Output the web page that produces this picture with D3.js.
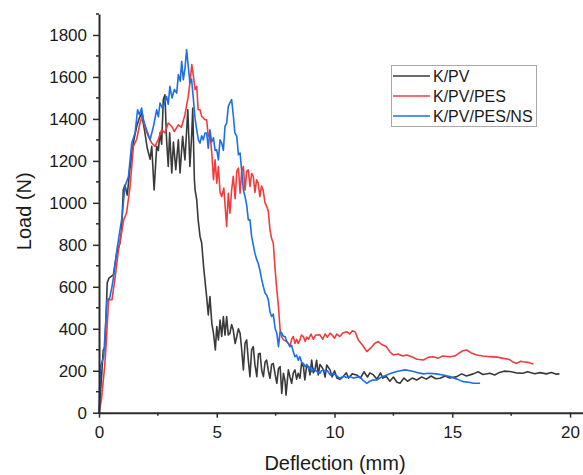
<!DOCTYPE html>
<html>
<head>
<meta charset="utf-8">
<script src="https://cdn.jsdelivr.net/npm/d3@7"></script>
<style>
html,body{margin:0;padding:0;background:#fff;}
svg{display:block;font-family:Arial,"Liberation Sans",sans-serif;}
</style>
</head>
<body>
<svg id="chart" width="583" height="475"></svg>
<script>
const seriesNames = ["K/PV", "K/PV/PES", "K/PV/PES/NS"];
const seriesColors = ["#3a3a3a", "#f23c3c", "#1c6fe6"];
const xMajorTicks = [0, 5, 10, 15, 20];
const yMajorTicks = [0, 200, 400, 600, 800, 1000, 1200, 1400, 1600, 1800];
const xLabel = "Deflection (mm)";
const yLabel = "Load (N)";

const kpv = [[0,0],[0.11,172],[0.18,299],[0.25,310],[0.35,620],[0.42,641],[0.61,657],[0.75,761],[0.89,809],[0.96,871],[1.03,1061],[1.1,1085],[1.2,1037],[1.3,1150],[1.46,1287],[1.6,1364],[1.7,1400],[1.81,1428],[1.95,1334],[2.05,1260],[2.1,1239],[2.17,1208],[2.24,1270],[2.34,1061],[2.45,1269],[2.52,1250],[2.59,1334],[2.66,1280],[2.73,1492],[2.8,1515],[2.87,1300],[2.94,1173],[3.0,1334],[3.09,1142],[3.16,1290],[3.26,1158],[3.37,1300],[3.44,1142],[3.55,1317],[3.65,1205],[3.77,1444],[3.86,1173],[3.94,1333],[3.98,1452],[4.05,1110],[4.08,1061],[4.15,1014],[4.21,919],[4.29,840],[4.36,809],[4.44,696],[4.57,553],[4.64,466],[4.71,553],[4.79,426],[4.86,380],[4.94,299],[5.0,410],[5.07,347],[5.14,442],[5.21,363],[5.28,458],[5.35,370],[5.42,458],[5.49,370],[5.56,379],[5.63,420],[5.7,394],[5.78,330],[5.85,363],[5.92,400],[5.99,379],[6.06,300],[6.13,204],[6.2,330],[6.27,347],[6.34,250],[6.41,172],[6.48,300],[6.55,315],[6.62,230],[6.7,172],[6.77,280],[6.84,283],[6.91,200],[6.98,172],[7.05,240],[7.12,251],[7.19,200],[7.26,164],[7.33,230],[7.4,235],[7.48,180],[7.55,140],[7.62,210],[7.69,220],[7.76,92],[7.83,188],[7.9,150],[7.94,84],[8.04,204],[8.11,170],[8.18,140],[8.25,190],[8.32,204],[8.39,160],[8.46,188],[8.53,164],[8.6,235],[8.68,220],[8.74,156],[8.82,227],[8.89,220],[8.96,180],[9.03,251],[9.1,190],[9.17,204],[9.24,250],[9.31,180],[9.38,230],[9.45,220],[9.53,204],[9.6,170],[9.67,227],[9.81,204],[9.9,170],[10.0,200],[10.1,165],[10.23,159],[10.37,172],[10.5,190],[10.6,165],[10.75,185],[10.94,180],[11.1,165],[11.25,195],[11.4,170],[11.5,190],[11.65,180],[11.8,160],[11.95,190],[12.05,165],[12.2,172],[12.35,150],[12.5,170],[12.65,145],[12.78,140],[12.95,165],[13.1,150],[13.3,165],[13.49,156],[13.7,170],[13.9,160],[14.1,175],[14.3,162],[14.48,164],[14.7,175],[14.9,165],[15.19,172],[15.4,185],[15.6,175],[15.89,185],[16.1,195],[16.3,182],[16.6,188],[16.8,180],[17.0,192],[17.2,198],[17.45,196],[17.7,190],[18.0,188],[18.2,195],[18.5,186],[18.73,191],[19.0,185],[19.2,192],[19.4,184],[19.55,185]];

const kpvPes = [[0,0],[0.1,60],[0.24,219],[0.3,320],[0.41,538],[0.55,538],[0.69,649],[0.83,776],[1.05,919],[1.17,952],[1.32,1078],[1.46,1269],[1.6,1303],[1.74,1380],[1.85,1420],[1.95,1358],[2.1,1317],[2.24,1285],[2.38,1269],[2.52,1303],[2.66,1348],[2.8,1333],[2.94,1380],[3.09,1364],[3.2,1340],[3.37,1372],[3.5,1360],[3.65,1420],[3.79,1507],[3.86,1571],[3.94,1659],[4.01,1603],[4.08,1540],[4.15,1555],[4.21,1444],[4.29,1444],[4.36,1412],[4.5,1396],[4.57,1396],[4.64,1317],[4.71,1333],[4.79,1237],[4.86,1110],[4.93,1205],[5.0,1094],[5.07,1173],[5.14,1050],[5.21,1030],[5.3,1070],[5.42,887],[5.49,1046],[5.56,951],[5.63,1060],[5.70,1126],[5.78,1020],[5.85,1150],[5.92,1166],[5.99,1046],[6.06,1150],[6.13,1173],[6.2,1060],[6.27,1150],[6.34,1157],[6.41,1078],[6.48,1140],[6.55,1126],[6.62,1050],[6.69,1110],[6.76,1094],[6.83,1030],[6.9,1080],[6.97,1060],[7.05,1000],[7.12,983],[7.19,960],[7.26,871],[7.33,830],[7.4,808],[7.47,696],[7.55,585],[7.62,506],[7.69,394],[7.76,360],[7.83,347],[7.97,339],[8.04,330],[8.11,315],[8.18,350],[8.25,363],[8.32,330],[8.39,350],[8.46,330],[8.53,347],[8.6,370],[8.68,363],[8.75,340],[8.82,360],[8.9,350],[9.0,375],[9.1,350],[9.2,370],[9.38,371],[9.5,350],[9.6,375],[9.7,360],[9.81,379],[9.9,370],[10.0,355],[10.1,375],[10.23,363],[10.35,380],[10.52,386],[10.65,375],[10.75,390],[10.87,386],[10.95,365],[11.01,347],[11.2,320],[11.37,291],[11.55,310],[11.7,330],[11.86,339],[12.0,325],[12.2,315],[12.35,290],[12.5,275],[12.7,280],[12.9,270],[13.07,275],[13.3,265],[13.5,255],[13.78,251],[14.0,265],[14.2,267],[14.4,260],[14.6,270],[14.9,267],[15.1,270],[15.3,285],[15.45,295],[15.61,299],[15.8,285],[16.04,275],[16.3,270],[16.6,267],[16.9,265],[17.17,259],[17.4,255],[17.6,240],[17.74,235],[17.9,245],[18.0,243],[18.2,240],[18.44,232]];

const kpvPesNs = [[0,0],[0.03,120],[0.06,219],[0.2,267],[0.34,538],[0.45,545],[0.55,600],[0.62,649],[0.76,776],[0.98,935],[1.1,1078],[1.25,1125],[1.39,1285],[1.53,1333],[1.64,1444],[1.72,1420],[1.81,1452],[1.88,1396],[2.02,1348],[2.17,1301],[2.31,1364],[2.45,1444],[2.52,1410],[2.59,1476],[2.7,1450],[2.8,1480],[2.87,1507],[2.94,1470],[3.01,1555],[3.1,1500],[3.2,1540],[3.3,1523],[3.37,1611],[3.45,1580],[3.51,1674],[3.58,1587],[3.65,1640],[3.72,1730],[3.79,1650],[3.86,1571],[3.93,1590],[4.01,1492],[4.08,1400],[4.15,1348],[4.22,1300],[4.29,1285],[4.36,1320],[4.43,1300],[4.5,1333],[4.57,1333],[4.64,1260],[4.71,1348],[4.78,1290],[4.86,1310],[4.93,1250],[5.0,1253],[5.07,1205],[5.14,1300],[5.21,1285],[5.28,1250],[5.35,1364],[5.42,1380],[5.49,1460],[5.56,1476],[5.63,1492],[5.7,1420],[5.77,1333],[5.85,1317],[5.92,1229],[5.99,1237],[6.06,1150],[6.13,1062],[6.2,1030],[6.27,990],[6.34,919],[6.41,919],[6.48,840],[6.55,800],[6.62,760],[6.7,728],[6.76,712],[6.83,680],[6.91,633],[6.98,600],[7.05,570],[7.12,560],[7.19,538],[7.26,480],[7.33,458],[7.4,470],[7.48,400],[7.55,380],[7.62,315],[7.69,386],[7.76,380],[7.83,363],[7.9,363],[7.97,340],[8.04,330],[8.11,315],[8.18,320],[8.25,290],[8.32,267],[8.39,275],[8.46,250],[8.53,267],[8.6,240],[8.68,235],[8.75,219],[8.82,230],[8.9,210],[8.96,219],[9.03,196],[9.1,210],[9.2,200],[9.38,188],[9.45,200],[9.53,204],[9.6,195],[9.7,200],[9.81,180],[9.95,188],[10.1,175],[10.23,164],[10.4,175],[10.5,168],[10.66,172],[10.8,165],[11.08,172],[11.2,155],[11.37,140],[11.5,150],[11.6,155],[11.79,156],[12.0,170],[12.22,180],[12.4,188],[12.64,196],[12.8,200],[12.99,204],[13.2,200],[13.35,196],[13.5,192],[13.78,185],[14.0,188],[14.33,185],[14.6,180],[14.9,172],[15.2,160],[15.47,148],[15.7,145],[15.9,140],[16.18,140]];

const allSeries = [kpv, kpvPes, kpvPesNs];

const svg = d3.select("#chart");
const x = d3.scaleLinear().domain([0, 20.55]).range([99, 583]);
const y = d3.scaleLinear().domain([0, 1900]).range([412.7, 14]);

const axisColor = "#2b2b2b";

// lines
const line = d3.line().x(d => x(d[0])).y(d => y(d[1]));
const gLines = svg.append("g");
allSeries.forEach((s, i) => {
  gLines.append("path").datum(s)
    .attr("d", line).attr("fill", "none")
    .attr("stroke", seriesColors[i]).attr("stroke-width", 1.6)
    .attr("stroke-linejoin", "round");
});

// x axis
const xMinor = d3.range(2.5, 20.55, 5);
const gx = svg.append("g").attr("transform", `translate(0,${y(0)})`);
gx.call(d3.axisBottom(x).tickValues(xMajorTicks).tickSize(5).tickSizeOuter(0).tickPadding(8).tickFormat(d3.format("d")));
gx.append("g").selectAll("line").data(xMinor).join("line")
  .attr("x1", d => x(d)).attr("x2", d => x(d)).attr("y1", 0).attr("y2", 3)
  .attr("stroke", axisColor).attr("stroke-width", 1.5);

// y axis
const yMinor = d3.range(100, 1901, 200);
const gy = svg.append("g").attr("transform", `translate(${x(0)},0)`);
gy.call(d3.axisLeft(y).tickValues(yMajorTicks).tickSize(6).tickSizeOuter(0).tickPadding(6).tickFormat(d3.format("d")));
gy.append("g").selectAll("line").data(yMinor).join("line")
  .attr("x1", 0).attr("x2", -3).attr("y1", d => y(d)).attr("y2", d => y(d))
  .attr("stroke", axisColor).attr("stroke-width", 1.5);

[gx, gy].forEach(g => {
  g.select(".domain").attr("stroke", axisColor).attr("stroke-width", 2);
  g.selectAll(".tick line").attr("stroke", axisColor).attr("stroke-width", 1.5);
  g.selectAll(".tick text").attr("fill", "#1a1a1a").style("font-size", "17px")
    .style("font-family", "Arial, 'Liberation Sans', sans-serif");
});

// axis titles
svg.append("text").attr("x", 335).attr("y", 470)
  .attr("text-anchor", "middle").style("font-size", "20px").attr("fill", "#1a1a1a")
  .text(xLabel);
svg.append("text").attr("transform", `translate(31,${y(960)}) rotate(-90)`)
  .attr("text-anchor", "middle").style("font-size", "20px").attr("fill", "#1a1a1a")
  .text(yLabel);

// legend
const lg = svg.append("g");
lg.append("rect").attr("x", 391.5).attr("y", 65.5).attr("width", 145).attr("height", 61)
  .attr("fill", "#fff").attr("stroke", "#a8a8a8").attr("stroke-width", 1);
seriesNames.forEach((n, i) => {
  const cy = 76 + i * 20;
  lg.append("line").attr("x1", 393).attr("x2", 430).attr("y1", cy).attr("y2", cy)
    .attr("stroke", seriesColors[i]).attr("stroke-width", 1.6);
  lg.append("text").attr("x", 433).attr("y", cy + 6).style("font-size", "16px")
    .attr("fill", "#1a1a1a").text(n);
});
</script>
</body>
</html>
